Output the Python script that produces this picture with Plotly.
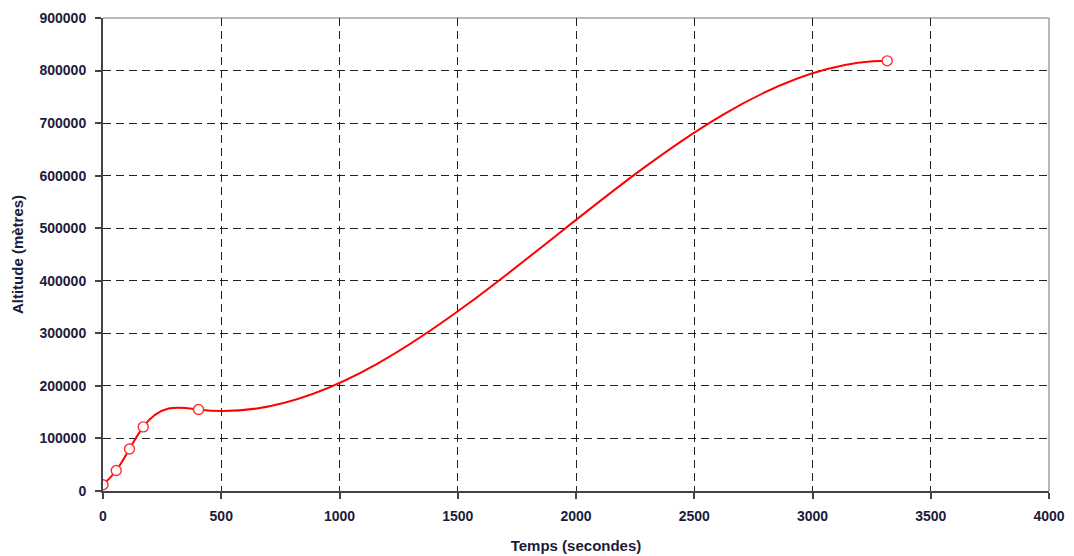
import numpy as np
import plotly.graph_objects as go

# ---- data ----
temps = [0, 56, 112, 170, 404, 3316]                        # Temps (secondes)
altitude = [12000, 39000, 80000, 122000, 155000, 818500]   # Altitude (mètres)

x_ticks = [0, 500, 1000, 1500, 2000, 2500, 3000, 3500, 4000]
y_ticks = [0, 100000, 200000, 300000, 400000, 500000, 600000, 700000, 800000, 900000]


def spline_slopes(x, y, end_slope=0.0):
    """Cubic spline y(x): natural at start, given slope at end. Returns dy/dx at knots."""
    n = len(x)
    h = np.diff(x)
    A = np.zeros((n, n)); r = np.zeros(n)
    A[0, 0] = 1
    A[-1, -1] = 2 * h[-1]; A[-1, -2] = h[-1]
    r[-1] = 6 * (end_slope - (y[-1] - y[-2]) / h[-1])
    for i in range(1, n - 1):
        A[i, i - 1] = h[i - 1]; A[i, i] = 2 * (h[i - 1] + h[i]); A[i, i + 1] = h[i]
        r[i] = 6 * ((y[i + 1] - y[i]) / h[i] - (y[i] - y[i - 1]) / h[i - 1])
    M = np.linalg.solve(A, r)
    D = np.zeros(n)
    for i in range(n - 1):
        D[i] = (y[i + 1] - y[i]) / h[i] - h[i] * (2 * M[i] + M[i + 1]) / 6
    D[-1] = (y[-1] - y[-2]) / h[-1] + h[-1] * (M[-2] + 2 * M[-1]) / 6
    return D


def smooth_path(x, y):
    """Exact Bezier form of the spline through the data, in data coordinates."""
    x = np.asarray(x, float); y = np.asarray(y, float)
    d = spline_slopes(x, y)
    p = "M %f,%f" % (x[0], y[0])
    for i in range(len(x) - 1):
        h = x[i + 1] - x[i]
        p += " C %f,%f %f,%f %f,%f" % (x[i] + h / 3, y[i] + h * d[i] / 3,
                                      x[i + 1] - h / 3, y[i + 1] - h * d[i + 1] / 3,
                                      x[i + 1], y[i + 1])
    return p


fig = go.Figure()

# smoothed line (drawn on the data axes, between grid and markers)
fig.add_shape(type="path", xref="x", yref="y", path=smooth_path(temps, altitude),
              line=dict(color="#ff0000", width=2), layer="between")

# data points
fig.add_trace(go.Scatter(
    x=temps, y=altitude, mode="markers",
    marker=dict(symbol="circle", size=10, color="white",
                line=dict(color="#ff3030", width=1.4)),
    showlegend=False, hoverinfo="x+y",
))

font_tick = dict(family="Liberation Sans, Arial", size=14, color="#1c1c3a")
font_title = dict(family="Liberation Sans, Arial", size=15, color="#1c1c3a")
axis_common = dict(
    showgrid=True, gridcolor="#222222", gridwidth=1, griddash="8px,5px",
    showline=True, linecolor="#444444", linewidth=2,
    ticks="outside", ticklen=6, tickcolor="#444444", tickwidth=1.5,
    tickfont=font_tick, zeroline=False, automargin=False,
)

fig.update_layout(
    width=1074, height=556, showlegend=False,
    margin=dict(l=103, r=25, t=18, b=65),
    paper_bgcolor="white", plot_bgcolor="white",
    xaxis=dict(
        range=[0, 4000], tickvals=x_ticks, ticktext=["<b>%d</b>" % v for v in x_ticks],
        ticklabelstandoff=5,
        title=dict(text="<b>Temps (secondes)</b>", font=font_title, standoff=18),
        **axis_common,
    ),
    yaxis=dict(
        range=[0, 900000], tickvals=y_ticks, ticktext=["<b>%d</b>" % v for v in y_ticks],
        ticklabelstandoff=6,
        title=dict(text="<b>Altitude (mètres)</b>", font=font_title, standoff=12),
        **axis_common,
    ),
)

# light gray frame on top and right sides of the plot area
fig.add_shape(type="line", xref="paper", yref="paper", x0=0, x1=1, y0=1, y1=1,
              line=dict(color="#a0a0a0", width=1.5), layer="below")
fig.add_shape(type="line", xref="paper", yref="paper", x0=1, x1=1, y0=0, y1=1,
              line=dict(color="#a0a0a0", width=1.5), layer="below")

fig.write_html("out.html", config={"displayModeBar": False},
               post_script="document.body.style.margin='0';")
